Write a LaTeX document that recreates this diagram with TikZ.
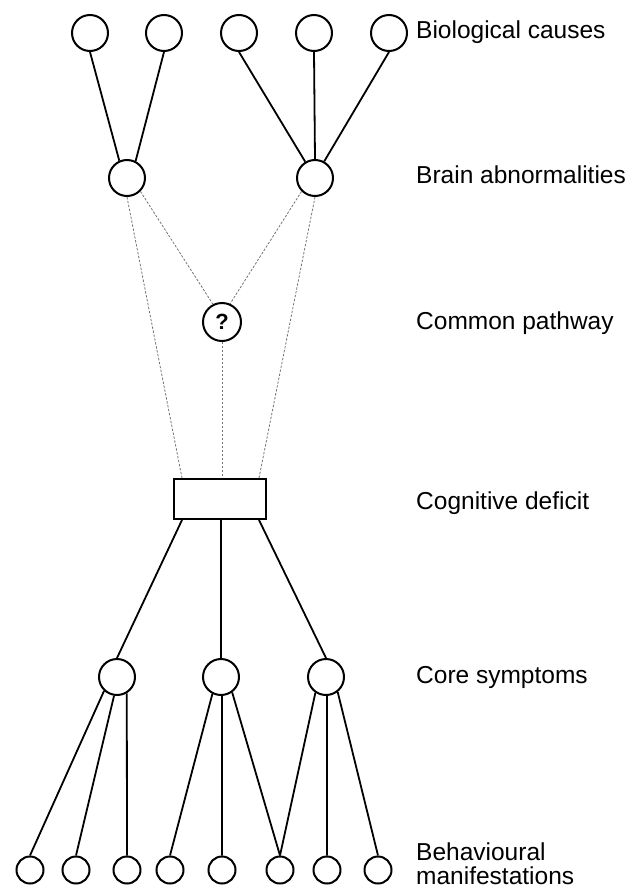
\documentclass[tikz,border=0pt]{standalone}
\usepackage{fontspec}
\setmainfont{Liberation Sans}
\usetikzlibrary{calc}
\begin{document}
\begin{tikzpicture}[x=1pt,y=-1pt,
  circ/.style={circle,draw,line width=2pt,minimum size=36pt,inner sep=0pt},
  smallcirc/.style={circle,draw,line width=2pt,minimum size=27pt,inner sep=0pt},
  boxnode/.style={rectangle,draw,line width=2pt,minimum width=92pt,minimum height=40pt,inner sep=0pt},
  solidlink/.style={line width=1.8pt},
  dashlink/.style={black!55,line width=0.8pt,dash pattern=on 2.4pt off 1.6pt},
  lab/.style={anchor=base west,inner sep=0pt,font=\fontsize{24.5}{24}\selectfont,align=left}
]
\useasboundingbox (0,0) rectangle (629,888);
% biological causes
\node[circ] (bio1) at (90,33) {};
\node[circ] (bio2) at (164,33) {};
\node[circ] (bio3) at (239,33) {};
\node[circ] (bio4) at (314,33) {};
\node[circ] (bio5) at (389,33) {};
% brain abnormalities
\node[circ] (brL) at (127,178) {};
\node[circ] (brR) at (315,178) {};
% common pathway
\node[circ,minimum size=38pt,font=\fontsize{22}{22}\selectfont\bfseries] (q) at (222,322) {?};
% cognitive deficit
\node[boxnode] (cog) at (220,499) {};
% core symptoms
\node[circ] (cL) at (117,677) {};
\node[circ] (cM) at (221,677) {};
\node[circ] (cR) at (326,677) {};
% behavioural manifestations
\node[smallcirc] (b1) at (30,870) {};
\node[smallcirc] (b2) at (76,870) {};
\node[smallcirc] (b3) at (127,870) {};
\node[smallcirc] (b4) at (170,870) {};
\node[smallcirc] (b5) at (222,870) {};
\node[smallcirc] (b6) at (280,870) {};
\node[smallcirc] (b7) at (327,870) {};
\node[smallcirc] (b8) at (378,870) {};
% labels
\node[lab] (t1) at (416,39) {Biological causes};
\node[lab] (t2) at (416,183) {Brain abnormalities};
\node[lab] (t3) at (416,329) {Common pathway};
\node[lab] (t4) at (416,509) {Cognitive deficit};
\node[lab] (t5) at (416,683) {Core symptoms};
\node[lab] (t6) at (416,884) {Behavioural\\manifestations};
% solid links top
\draw[solidlink] (bio1.south) -- (brL.114);
\draw[solidlink] (bio2.south) -- (brL.63);
\draw[solidlink] (bio3.south) -- (brR.121);
\draw[solidlink] (bio4.south) -- (brR.north);
\draw[solidlink] (bio5.south) -- (brR.61);
% dashed links
\draw[dashlink] (brL.south) -- ([xshift=9pt]cog.north west);
\draw[dashlink] (brL.-45) -- (q.117);
\draw[dashlink] (brR.-135) -- (q.66);
\draw[dashlink] (brR.south) -- ([xshift=-8pt]cog.north east);
\draw[dashlink] (q.south) -- ([xshift=2pt]cog.north);
% cognitive to core
\draw[solidlink] ([xshift=9pt]cog.south west) -- (cL.north);
\draw[solidlink] ([xshift=1pt]cog.south) -- (cM.north);
\draw[solidlink] ([xshift=-8pt]cog.south east) -- (cR.north);
% core to behaviour
\draw[solidlink] (cL.-133) -- (b1.north);
\draw[solidlink] (cL.-99) -- (b2.north);
\draw[solidlink] (cL.-59) -- (b3.north);
\draw[solidlink] (cM.-117) -- (b4.north);
\draw[solidlink] (cM.-87) -- (b5.north);
\draw[solidlink] (cM.-54) -- (b6.north);
\draw[solidlink] (cR.-124) -- (b6.north);
\draw[solidlink] (cR.-87) -- (b7.north);
\draw[solidlink] (cR.-52) -- (b8.north);
\end{tikzpicture}
\end{document}
